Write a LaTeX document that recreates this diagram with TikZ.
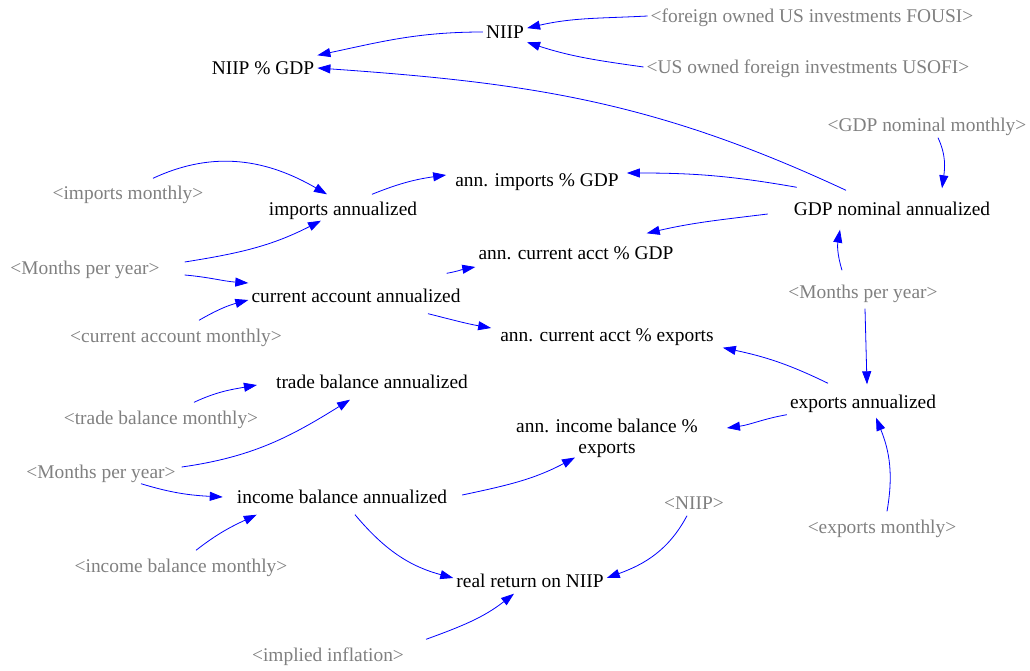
\documentclass[tikz,border=0pt]{standalone}
\usepackage{fontspec}
\setmainfont{Liberation Serif}
\usetikzlibrary{arrows.meta}
\usepackage{xcolor}
\definecolor{linkblue}{RGB}{0,0,255}
\definecolor{shadowgray}{RGB}{128,128,128}

\begin{document}
\begin{tikzpicture}[x=1pt,y=-1pt,
  var/.style={font=\fontsize{19.4}{21}\selectfont, inner xsep=3pt, inner ysep=4pt},
  lvl/.style={var, text height=14.8pt, text depth=2.2pt},
  shadow/.style={lvl, text=shadowgray},
  link/.style={draw=linkblue, line width=0.8pt, -{Triangle[length=13pt,width=9pt]}}]
\useasboundingbox (0,0) rectangle (1030,671);
\node[lvl] (niip) at (505,32) {NIIP};
\node[lvl] (niippct) at (263,68) {NIIP \% GDP};
\node[lvl] (annimp) at (537,180) {ann. imports \% GDP};
\node[lvl] (impann) at (343,209) {imports annualized};
\node[lvl] (gdpann) at (892,209) {GDP nominal annualized};
\node[lvl] (annca) at (576,253) {ann. current acct \% GDP};
\node[lvl] (caann) at (356,296) {current account annualized};
\node[lvl] (cae) at (607,335) {ann. current acct \% exports};
\node[lvl] (tbann) at (372,382) {trade balance annualized};
\node[lvl] (expann) at (863,402) {exports annualized};
\node[var, align=center] (aibe) at (607,438) {ann. income balance \%\\exports};
\node[lvl] (ibann) at (342,497) {income balance annualized};
\node[lvl] (rr) at (530,581) {real return on NIIP};
\node[shadow] (fousi) at (812,16) {<foreign owned US investments FOUSI>};
\node[shadow] (usofi) at (808,67) {<US owned foreign investments USOFI>};
\node[shadow] (gdpm) at (927,125) {<GDP nominal monthly>};
\node[shadow] (impm) at (128,193) {<imports monthly>};
\node[shadow] (mpy1) at (85,268) {<Months per year>};
\node[shadow] (cam) at (176,336) {<current account monthly>};
\node[shadow] (mpy2) at (863,292) {<Months per year>};
\node[shadow] (tbm) at (161,418) {<trade balance monthly>};
\node[shadow] (mpy3) at (101,472) {<Months per year>};
\node[shadow] (niipg) at (694,503) {<NIIP>};
\node[shadow] (expm) at (882,527) {<exports monthly>};
\node[shadow] (ibm) at (181,566) {<income balance monthly>};
\node[shadow] (infl) at (328,655) {<implied inflation>};
\draw[link] (fousi.west) to[out=183,in=13] (niip.10);
\draw[link] (usofi.west) to[out=172,in=-18] (niip.-25);
\draw[link] (niip.west) to[out=180,in=12] (niippct.north east);
\draw[link] ([shift={(-46,-6)}]gdpann.north) to[out=155,in=-4] (niippct.east);
\draw[link] ([shift={(6,-9)}]gdpann.north west) to[out=170,in=0] ([shift={(5,-7)}]annimp.east);
\draw[link] ([shift={(-23,5)}]gdpann.west) to[out=187,in=13] ([shift={(-30,-7)}]annca.north east);
\draw[link] ([shift={(11,0)}]gdpm.south) to[out=-65,in=82] ([shift={(50,-8)}]gdpann.north);
\draw[link] ([shift={(-21,-9)}]mpy2.north) to[out=107,in=-100] ([shift={(-52,8)}]gdpann.south);
\draw[link] ([shift={(2,4)}]mpy2.south) -- ([shift={(4,-5)}]expann.north);
\draw[link] ([shift={(-35,-6)}]expann.north) to[out=154,in=-12] ([shift={(6,0)}]cae.south east);
\draw[link] (expann.south west) to[out=190,in=8] ([shift={(26,-10)}]aibe.east);
\draw[link] ([shift={(5,-3)}]expm.north) to[out=80,in=-68] ([shift={(13,3)}]expann.south);
\draw[link] ([shift={(-7,0)}]niipg.south) to[out=-118,in=20] ([shift={(0,-3)}]rr.east);
\draw[link] ([shift={(13,5)}]ibann.south) to[out=-50,in=165] ([shift={(0,-3)}]rr.west);
\draw[link] ([shift={(19,-3)}]infl.north east) to[out=20,in=-142] ([shift={(-16,0)}]rr.south);
\draw[link] ([shift={(12,-2)}]ibann.east) to[out=12,in=-152] ([shift={(-32,-4)}]aibe.south);
\draw[link] ([shift={(15,-3)}]ibm.north) to[out=38,in=205] ([shift={(23,5)}]ibann.south west);
\draw[link] ([shift={(40,-1)}]mpy3.south) to[out=-17,in=177] ([shift={(-11,0)}]ibann.west);
\draw[link] ([shift={(3,-5)}]mpy3.east) to[out=8,in=-148] ([shift={(-22,5)}]tbann.south);
\draw[link] ([shift={(33,-3)}]tbm.north) to[out=25,in=190] ([shift={(-16,3)}]tbann.west);
\draw[link] ([shift={(23,-3)}]cam.north) to[out=30,in=195] ([shift={(0,4)}]caann.west);
\draw[link] ([shift={(22,7)}]mpy1.east) to[out=-5,in=176] ([shift={(0,-13)}]caann.west);
\draw[link] ([shift={(22,-6)}]mpy1.east) to[out=9,in=-153] ([shift={(-22,-1)}]impann.south);
\draw[link] ([shift={(25,-2)}]impm.north) to[out=25,in=150] ([shift={(-16,-2)}]impann.north);
\draw[link] ([shift={(29,-2)}]impann.north) to[out=22,in=188] ([shift={(-6,-5)}]annimp.west);
\draw[link] ([shift={(-17,-10)}]caann.north east) to[out=10,in=190] ([shift={(0,14)}]annca.west);
\draw[link] ([shift={(72,5)}]caann.south) to[out=-14,in=170] ([shift={(-6,-7)}]cae.west);
\end{tikzpicture}
\end{document}
